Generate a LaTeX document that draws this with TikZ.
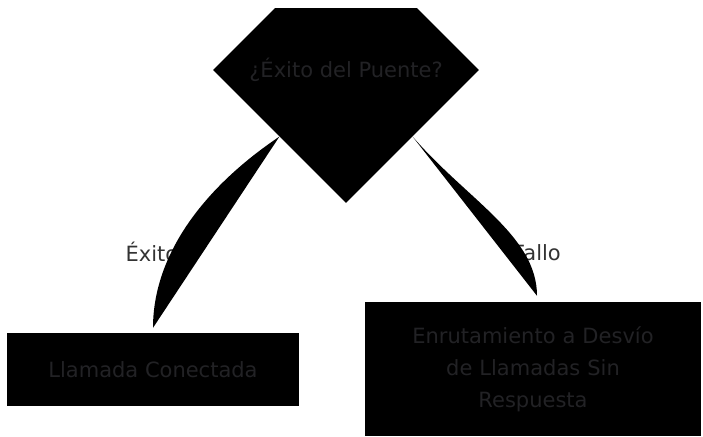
\documentclass[tikz,border=0pt]{standalone}
\usepackage{fontspec}
\setmainfont{DejaVu Sans}
\usetikzlibrary{shapes.geometric}
\definecolor{txtgray}{HTML}{333333}
\definecolor{boxtxt}{HTML}{222225}
\tikzset{
  decision/.style={diamond, fill=black, inner sep=0pt, minimum width=266pt, minimum height=266pt, text=boxtxt, font=\fontsize{21}{25}\selectfont},
  outcome/.style={rectangle, fill=black, inner sep=0pt, text=boxtxt, align=center, font=\fontsize{21}{32}\selectfont},
  edgelabel/.style={text=txtgray, inner sep=0pt, font=\fontsize{21}{25}\selectfont},
  flow/.style={fill=black}
}
\begin{document}
\begin{tikzpicture}[x=1pt,y=-1pt]
    \useasboundingbox (0,0) rectangle (703,436);
    \clip (0,9) rectangle (703,436);
    \node[decision] (bridge) at (346,70) {¿Éxito del Puente?};
    \node[outcome, minimum width=292pt, minimum height=73pt] (connected) at (153,369.5) {Llamada Conectada};
    \node[outcome, minimum width=336pt, minimum height=134pt, text width=300pt] (forward) at (533,369) {Enrutamiento a Desvío\\de Llamadas Sin\\Respuesta};
    \node[edgelabel] (ok) at (152,252) {Éxito};
    \node[edgelabel] (fail) at (537,253) {Fallo};
    \coordinate[yshift=5pt] (okend) at (connected.north);
    \coordinate[xshift=4pt, yshift=6pt] (failend) at (forward.north);
    \fill[flow] (bridge.south west) .. controls +(-79.5,53.5) and +(0,-70) .. (okend) -- cycle;
    \fill[flow] (bridge.south east) .. controls +(55,63.5) and +(0,-60) .. (failend) -- cycle;
\end{tikzpicture}
\end{document}
